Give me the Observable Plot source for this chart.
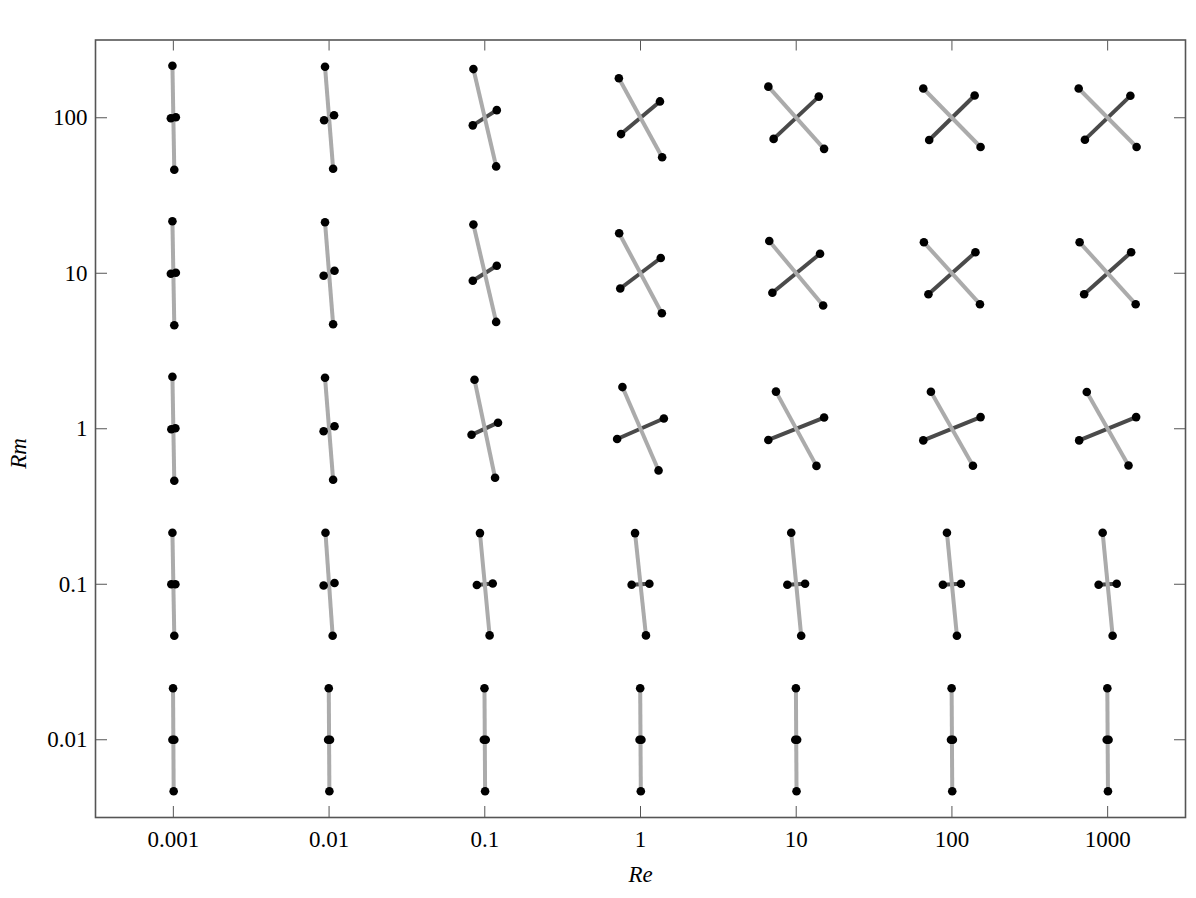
<!DOCTYPE html>
<html><head><meta charset="utf-8">
<script src="https://cdn.jsdelivr.net/npm/d3@7"></script>
<script src="https://cdn.jsdelivr.net/npm/@observablehq/plot@0.6"></script>
<style>body{margin:0;background:#fff} #chart svg{display:block}</style>
</head><body><div id="chart"></div>
<script>
const Re = [0.001, 0.01, 0.1, 1, 10, 100, 1000];
const Rm = [100, 10, 1, 0.1, 0.01];
const reLabels = ["0.001", "0.01", "0.1", "1", "10", "100", "1000"];
const rmLabels = ["100", "10", "1", "0.1", "0.01"];

// Half-extents of each segment, in decades (rows: Rm = 100, 10, 1, 0.1, 0.01; columns: Re)
const lightDx = [
  [0.006, 0.026, 0.073, 0.139, 0.179, 0.184, 0.186],
  [0.006, 0.026, 0.073, 0.137, 0.173, 0.180, 0.180],
  [0.006, 0.026, 0.066, 0.116, 0.130, 0.135, 0.134],
  [0.006, 0.023, 0.031, 0.035, 0.032, 0.032, 0.032],
  [0.002, 0.002, 0.002, 0.002, 0.002, 0.002, 0.002]
];
const lightDy = [
  [0.334, 0.328, 0.313, 0.254, 0.200, 0.188, 0.188],
  [0.334, 0.328, 0.313, 0.257, 0.207, 0.199, 0.199],
  [0.334, 0.328, 0.315, 0.268, 0.239, 0.238, 0.236],
  [0.331, 0.331, 0.329, 0.329, 0.331, 0.331, 0.331],
  [0.331, 0.331, 0.331, 0.331, 0.331, 0.331, 0.331]
];
const darkDx = [
  [0.016, 0.032, 0.077, 0.125, 0.145, 0.146, 0.146],
  [0.016, 0.035, 0.077, 0.130, 0.153, 0.151, 0.151],
  [0.013, 0.035, 0.085, 0.150, 0.179, 0.184, 0.183],
  [0.013, 0.035, 0.051, 0.057, 0.057, 0.058, 0.058],
  [0.006, 0.006, 0.006, 0.006, 0.006, 0.006, 0.006]
];
const darkDy = [
  [0.003, 0.016, 0.049, 0.105, 0.136, 0.143, 0.141],
  [0.003, 0.016, 0.048, 0.098, 0.125, 0.135, 0.135],
  [0.003, 0.016, 0.039, 0.066, 0.072, 0.075, 0.075],
  [0.000, 0.008, 0.005, 0.003, 0.003, 0.003, 0.003],
  [0.000, 0.000, 0.000, 0.000, 0.000, 0.000, 0.000]
];

const light = [], dark = [];
Rm.forEach((rm, i) => Re.forEach((re, j) => {
  light.push({x1: re * 10 ** -lightDx[i][j], y1: rm * 10 ** lightDy[i][j],
              x2: re * 10 ** lightDx[i][j], y2: rm * 10 ** -lightDy[i][j]});
  dark.push({x1: re * 10 ** -darkDx[i][j], y1: rm * 10 ** -darkDy[i][j],
             x2: re * 10 ** darkDx[i][j], y2: rm * 10 ** darkDy[i][j]});
}));
const pts = [...light, ...dark].flatMap(s => [{x: s.x1, y: s.y1}, {x: s.x2, y: s.y2}]);

const reFmt = new Map(Re.map((d, i) => [d, reLabels[i]]));
const rmFmt = new Map(Rm.map((d, i) => [d, rmLabels[i]]));
const serif = "'Liberation Serif', 'DejaVu Serif', 'Times New Roman', serif";

const chart = Plot.plot({
  width: 1196, height: 898,
  marginLeft: 95, marginRight: 11, marginTop: 39.5, marginBottom: 81,
  x: {type: "log", domain: [10 ** -3.5, 10 ** 3.5], label: null},
  y: {type: "log", domain: [10 ** -2.5, 10 ** 2.5], label: null},
  style: {fontFamily: serif, fontSize: "23px", background: "#fff", color: "#000"},
  marks: [
    Plot.link(dark, {x1: "x1", y1: "y1", x2: "x2", y2: "y2", stroke: "#4a4a4a", strokeWidth: 4}),
    Plot.link(light, {x1: "x1", y1: "y1", x2: "x2", y2: "y2", stroke: "#ababab", strokeWidth: 4}),
    Plot.dot(pts, {x: "x", y: "y", r: 4.3, fill: "#000"}),
    Plot.frame({stroke: "#555", strokeWidth: 1.6}),
    Plot.axisX(Re, {anchor: "bottom", tickSize: -11, tickFormat: () => "", stroke: "#555", label: null}),
    Plot.axisX(Re, {anchor: "top", tickSize: -10, tickFormat: () => "", stroke: "#555", label: null}),
    Plot.axisY(Rm, {anchor: "left", tickSize: -12, tickFormat: () => "", stroke: "#555", label: null}),
    Plot.axisY(Rm, {anchor: "right", tickSize: -12, tickFormat: () => "", stroke: "#555", label: null}),
    Plot.axisX(Re, {anchor: "bottom", tickSize: 0, tickPadding: 13, tickFormat: d => reFmt.get(d), fontSize: 23, fill: "#000", label: null}),
    Plot.axisY(Rm, {anchor: "left", tickSize: 0, tickPadding: 8, tickFormat: d => rmFmt.get(d), fontSize: 23, fill: "#000", label: null}),
    Plot.text(["Re"], {frameAnchor: "bottom", dy: 64, text: d => d, fontStyle: "italic", fontSize: 23, fill: "#000"}),
    Plot.text(["Rm"], {frameAnchor: "left", dx: -77, dy: 40, rotate: -90, text: d => d, fontStyle: "italic", fontSize: 23, fill: "#000"})
  ]
});
document.getElementById("chart").appendChild(chart);
</script>
</body></html>
